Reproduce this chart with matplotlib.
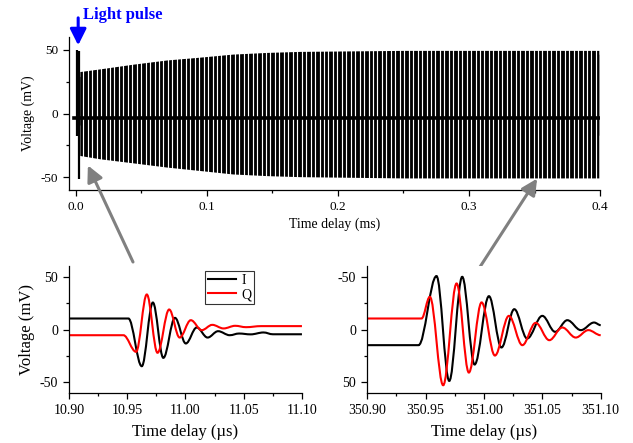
import numpy as np
import matplotlib
matplotlib.use("Agg")
import matplotlib.pyplot as plt
from matplotlib.path import Path
from matplotlib.patches import PathPatch
from matplotlib.lines import Line2D
from matplotlib.ticker import MultipleLocator, FormatStrFormatter

plt.rcParams['font.family'] = ['Liberation Serif', 'DejaVu Serif']
plt.rcParams['axes.unicode_minus'] = False

# ---------------- data: top panel (pulse train, ms) ----------------
pulse_t0_us = 4.15          # first regular pulse after the light pulse
pulse_period_us = 3.4       # repetition period of the ringing pulses
t_end_ms = 0.4
light_t_ms = [0.0009, 0.0025]
light_hi = [50, 49]
light_lo = [-18, -51]
env_t_ms = [0.0033, 0.0186, 0.044, 0.0697, 0.095, 0.12, 0.146, 0.171, 0.25, 0.30, 0.35, 0.399]
env_hi = [32.9, 35.0, 38.7, 42.0, 44.2, 46.6, 47.9, 48.7, 49.5, 49.5, 49.5, 49.5]
env_lo = [-32.9, -35.5, -38.7, -42.0, -44.7, -47.4, -48.7, -49.5, -50.5, -50.5, -50.5, -50.5]
inner_hi = [29, 31, 34, 37, 40, 42, 44, 45.5, 46.5, 46.5, 46.5, 46.5]
inner_lo = [-9, -10, -11, -12, -13, -14, -15, -16, -17, -17, -17, -17]
baseline_mv = -3.3

# ---------------- data: bottom-left (µs) ----------------
I1_t = [10.90, 10.951, 10.9625, 10.972, 10.981, 10.991, 11.0003, 11.0097, 11.019, 11.028,
        11.038, 11.046, 11.056, 11.067, 11.075, 11.10]
I1_v = [10.4, 10.4, -34.7, 25.5, -26.8, 11.0, -13.2, 1.9, -7.6, -1.6,
        -5.4, -3.8, -4.6, -2.8, -4.5, -4.5]
Q1_t = [10.90, 10.9467, 10.9576, 10.9668, 10.976, 10.986, 10.995, 11.0046, 11.014, 11.023,
        11.0327, 11.0427, 11.052, 11.065, 11.10]
Q1_v = [-5.4, -5.4, -21.1, 33.1, -22.0, 18.9, -7.6, 8.8, -0.6, 4.4,
        1.0, 3.5, 2.2, 3.2, 3.2]

# ---------------- data: bottom-right (µs) ----------------
I2_t = [350.90, 350.944, 350.9594, 350.9703, 350.9814, 350.992, 351.0043, 351.015, 351.026,
        351.037, 351.050, 351.061, 351.0714, 351.083, 351.0943, 351.10]
I2_v = [14.8, 14.8, -50.5, 48.6, -49.8, 33.1, -31.5, 17.0, -19.2,
        8.5, -12.9, 2.2, -8.8, 0.6, -6.6, -4.1]
Q2_t = [350.90, 350.9466, 350.9537, 350.9651, 350.9766, 350.9871, 350.998, 351.0094, 351.0214,
        351.0329, 351.0443, 351.056, 351.0671, 351.0786, 351.0894, 351.10]
Q2_v = [-10.4, -10.4, -30.9, 52.7, -43.5, 40.7, -25.6, 24.6, -12.9,
        14.8, -6.3, 10.1, -1.9, 7.6, 0.6, 5.4]


def smooth_path(ts, vs):
    """Bezier path through read points with horizontal tangents (extrema)."""
    verts = [(ts[0], vs[0])]
    codes = [Path.MOVETO]
    for i in range(1, len(ts)):
        d = ts[i] - ts[i - 1]
        verts += [(ts[i - 1] + 0.36 * d, vs[i - 1]), (ts[i] - 0.36 * d, vs[i]), (ts[i], vs[i])]
        codes += [Path.CURVE4] * 3
    return Path(verts, codes)


def style_axes(ax, fs):
    ax.spines['top'].set_visible(False)
    ax.spines['right'].set_visible(False)
    for s in ('left', 'bottom'):
        ax.spines[s].set_linewidth(0.9)
    ax.tick_params(which='major', direction='out', length=4, width=0.9, labelsize=fs, pad=4)
    ax.tick_params(which='minor', direction='out', length=2.5, width=0.9)


fig = plt.figure(figsize=(6.33, 4.43), dpi=100)

# ---------------- top panel ----------------
ax = fig.add_axes([0.109, 0.571, 0.839, 0.3455])
ax.fill_between(env_t_ms, env_lo, env_hi, color='black', lw=0)
pulses_us = np.arange(pulse_t0_us, t_end_ms * 1000, pulse_period_us)
gaps_ms = (pulses_us + pulse_period_us / 2) / 1000.0
gaps_ms = gaps_ms[gaps_ms < env_t_ms[-1]]
ax.vlines(gaps_ms, -60, 60, color='white', lw=0.85)
ax.fill_between(env_t_ms, inner_lo, inner_hi, color='black', lw=0, alpha=0.85)
ax.plot([-0.0012, t_end_ms], [baseline_mv, baseline_mv], color='black', lw=2.6)
ax.vlines(light_t_ms, light_lo, light_hi, color='black', lw=1.6)
ax.set_xlim(-0.005, 0.4)
ax.set_ylim(-60, 60)
ax.xaxis.set_major_locator(MultipleLocator(0.1))
ax.xaxis.set_minor_locator(MultipleLocator(0.05))
ax.xaxis.set_major_formatter(FormatStrFormatter('%.1f'))
ax.yaxis.set_major_locator(MultipleLocator(50))
ax.yaxis.set_minor_locator(MultipleLocator(25))
style_axes(ax, 9.5)
ax.set_xlabel('Time delay (ms)', fontsize=10, labelpad=3)
ax.set_ylabel('Voltage (mV)', fontsize=10, labelpad=4)

ax.annotate('', xy=(0.0020, 53.5), xytext=(0.0020, 75), xycoords='data',
            arrowprops=dict(arrowstyle='-|>,head_length=0.7,head_width=0.35', color='blue',
                            lw=2.2, mutation_scale=14, shrinkA=0, shrinkB=0),
            annotation_clip=False)
fig.text(82.7 / 633, 1 - 19 / 443, 'Light pulse', color='blue', fontsize=12,
         fontweight='bold', va='baseline', ha='left')

# ---------------- bottom-left ----------------
ax1 = fig.add_axes([0.109, 0.1129, 0.368, 0.2866])
ax1.add_patch(PathPatch(smooth_path(I1_t, I1_v), fill=False, ec='black', lw=1.5))
ax1.add_patch(PathPatch(smooth_path(Q1_t, Q1_v), fill=False, ec='red', lw=1.5))
ax1.set_xlim(10.90, 11.10)
ax1.set_ylim(-60, 60)
ax1.xaxis.set_major_locator(MultipleLocator(0.05))
ax1.xaxis.set_minor_locator(MultipleLocator(0.025))
ax1.xaxis.set_major_formatter(FormatStrFormatter('%.2f'))
ax1.yaxis.set_major_locator(MultipleLocator(50))
ax1.yaxis.set_minor_locator(MultipleLocator(25))
style_axes(ax1, 10)
ax1.set_xlabel('Time delay (\u00b5s)', fontsize=12, labelpad=5)
ax1.set_ylabel('Voltage (mV)', fontsize=12, labelpad=3)
handles = [Line2D([], [], color='black', lw=1.5, label='I'),
           Line2D([], [], color='red', lw=1.5, label='Q')]
leg = ax1.legend(handles=handles, loc='upper left', bbox_to_anchor=(0.584, 0.96),
                 borderaxespad=0, fontsize=10, frameon=True, fancybox=False,
                 handlelength=2.0, handletextpad=0.4, borderpad=0.2, labelspacing=0.1)
leg.get_frame().set_edgecolor('black')
leg.get_frame().set_linewidth(0.8)

# ---------------- bottom-right ----------------
ax2 = fig.add_axes([0.580, 0.1129, 0.369, 0.2866])
ax2.add_patch(PathPatch(smooth_path(I2_t, I2_v), fill=False, ec='black', lw=1.5))
ax2.add_patch(PathPatch(smooth_path(Q2_t, Q2_v), fill=False, ec='red', lw=1.5))
ax2.set_xlim(350.90, 351.10)
ax2.set_ylim(60, -60)
ax2.xaxis.set_major_locator(MultipleLocator(0.05))
ax2.xaxis.set_minor_locator(MultipleLocator(0.025))
ax2.xaxis.set_major_formatter(FormatStrFormatter('%.2f'))
ax2.yaxis.set_major_locator(MultipleLocator(50))
ax2.yaxis.set_minor_locator(MultipleLocator(25))
style_axes(ax2, 10)
ax2.set_xlabel('Time delay (\u00b5s)', fontsize=12, labelpad=5)

# ---------------- gray pointer arrows ----------------
arrow_kw = dict(arrowstyle='-|>,head_length=0.8,head_width=0.4', color='#808080',
                lw=2.2, mutation_scale=12, shrinkA=0, shrinkB=0)
ax.annotate('', xy=(0.0094, -40.7), xycoords='data',
            xytext=(133 / 633, 1 - 262 / 443), textcoords='figure fraction',
            arrowprops=arrow_kw, annotation_clip=False)
ax.annotate('', xy=(0.352, -51), xycoords='data',
            xytext=(478 / 633, 1 - 270 / 443), textcoords='figure fraction',
            arrowprops=arrow_kw, annotation_clip=False)

fig.savefig('out.png', dpi=100)
